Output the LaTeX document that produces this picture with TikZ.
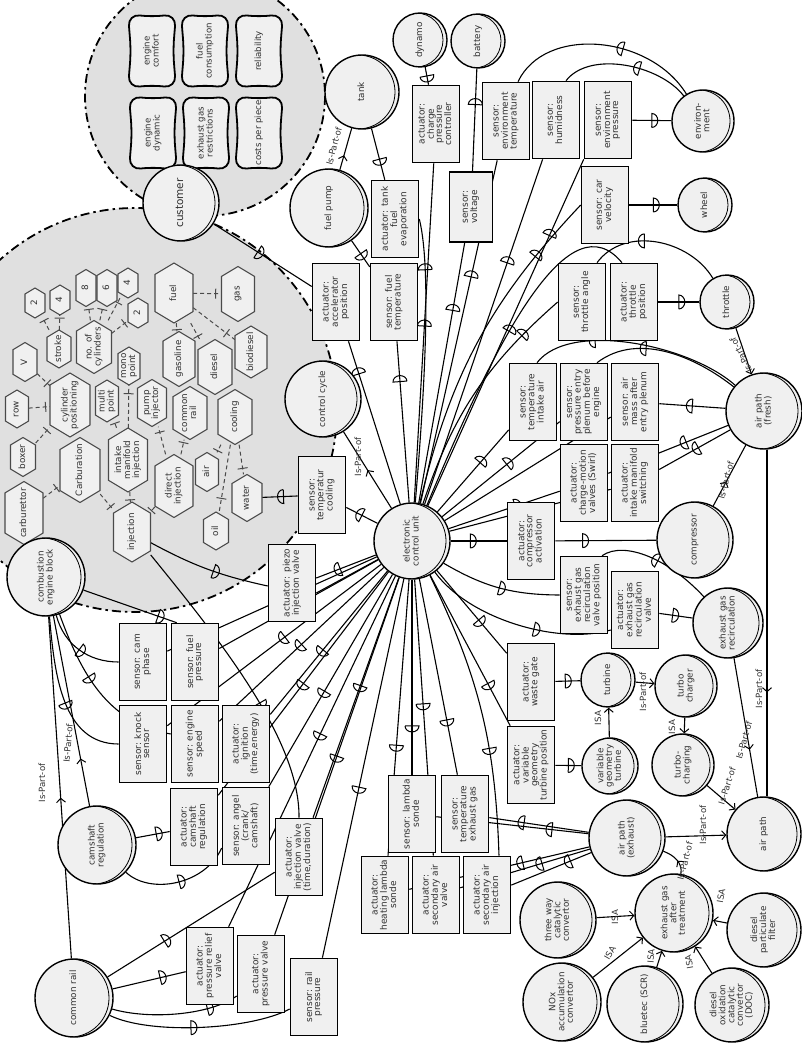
\documentclass[tikz,border=0pt]{standalone}
\usepackage{fontspec}
\setmainfont{DejaVu Sans}
\usetikzlibrary{arrows.meta,decorations.markings}
\pgfdeclarelayer{bg}
\pgfdeclarelayer{edges}
\pgfsetlayers{bg,edges,main}
\definecolor{nfill}{HTML}{F0F0F0}
\definecolor{gfill}{HTML}{E0E0E0}
\definecolor{hline}{HTML}{4A4A4A}
\definecolor{tcol}{HTML}{303030}
\newcommand\Rt[1]{\rotatebox{90}{\begin{tabular}{@{}c@{}}#1\end{tabular}}}
\newcommand\Fs{\fontsize{9}{9.4}\selectfont\renewcommand\arraystretch{0.85}}
\newcommand\Fq{\fontsize{8.6}{9}\selectfont\renewcommand\arraystretch{0.85}}
\newcommand\Fc{\fontsize{8.8}{9.1}\selectfont\renewcommand\arraystretch{0.85}}
\newcommand\Hx[6]{%
  \draw[hexd] ({#2-#4/2},{#3-#5/2+0.3*#4}) -- (#2,{#3-#5/2}) -- ({#2+#4/2},{#3-#5/2+0.3*#4}) -- ({#2+#4/2},{#3+#5/2-0.3*#4}) -- (#2,{#3+#5/2}) -- ({#2-#4/2},{#3+#5/2-0.3*#4}) -- cycle;
  \node[hexn, minimum width=#4, minimum height=#5] (#1) at (#2,#3) {\Rt{#6}};}
\newcommand\Rq[4]{%
  \draw[reqd] (#2,{#3-34}) -- ({#2+24},{#3-37}) -- ({#2+21},#3) -- ({#2+24},{#3+37}) -- (#2,{#3+34}) -- ({#2-24},{#3+37}) -- ({#2-21},#3) -- ({#2-24},{#3-37}) -- cycle;
  \node[font=\Fq, text=tcol, inner sep=0pt] (#1) at (#2,#3) {\Rt{#4}};}
\tikzset{
 box/.style={draw, line width=1.6pt, fill=nfill, minimum width=47, minimum height=77, inner sep=0pt, font=\Fs, text=tcol},
 ent/.style={draw, circle, line width=1.4pt, fill=nfill, inner sep=0pt, minimum size={2*#1}, font=\Fc, text=tcol,
   path picture={\draw[line width=0.8pt] ([xshift=-4pt]path picture bounding box.center) circle[radius=#1];}},
 hexd/.style={draw=hline, line width=1.1pt, fill=nfill},
 hexn/.style={inner sep=0pt, font=\Fc, text=tcol},
 reqd/.style={draw, line width=1.8pt, fill=nfill, rounded corners=12pt},
 grp/.style={fill=gfill, draw=black, line width=1.8pt, dash pattern=on 9pt off 4pt on 2.5pt off 4pt},
 con/.style={line width=1.1pt},
 lbl/.style={font=\fontsize{8.6}{8.6}\selectfont, text=tcol, inner sep=0.5pt},
 so/.style={postaction={decorate,decoration={markings,mark=at position #1 with {\draw[solid,line width=1pt] (0pt,-7pt) -- (0pt,7pt) arc[start angle=90,end angle=-90,x radius=6pt,y radius=7pt];}}}},
 so/.default=0.5,
 arr/.style={postaction={decorate,decoration={markings,mark=at position #1 with {\arrow[line width=1pt]{Straight Barb[length=4pt,width=9pt]}}}}},
 arr/.default=0.5,
 isa/.style={-{Straight Barb[length=4pt,width=9pt,line width=1pt]}},
 hl/.style={draw=hline, line width=1pt, dash pattern=on 4pt off 3pt, postaction={decorate,decoration={markings,mark=at position #1 with {\draw[solid,line width=1pt,draw=hline] (0pt,-5pt) -- (0pt,5pt);}}}},
 hl/.default=0.8
}
\begin{document}
\begin{tikzpicture}[x=1pt,y=-1pt]
\useasboundingbox (0,0) rectangle (801,1043);
\begin{pgfonlayer}{bg}
\fill[white] (0,0) rectangle (801,1043);
\path[grp] (205,96) circle[radius=120];
\path[grp] (135,410) circle[radius=202];
\end{pgfonlayer}

% customer requirements
\Rq{rq1}{152}{51}{engine\\comfort}
\Rq{rq2}{205}{51}{fuel\\consumption}
\Rq{rq3}{259}{51}{reliability}
\Rq{rq4}{153}{133}{engine\\dynamic}
\Rq{rq5}{206}{133}{exhaust gas\\restrictions}
\Rq{rq6}{259}{133}{costs per piece}

% hexagons
\Hx{h2a}{35}{303}{20}{30}{2}
\Hx{h4a}{60}{300}{20}{30}{4}
\Hx{hstroke}{59}{349}{24}{38}{stroke}
\Hx{h8}{86}{288}{20}{37}{8}
\Hx{h6}{107}{288}{20}{37}{6}
\Hx{h4b}{128}{283}{20}{30}{4}
\Hx{h2b}{138}{313}{20}{30}{2}
\Hx{hcyl}{94}{347}{35}{53}{no. of\\cylinders}
\Hx{hV}{25}{362}{24}{39}{V}
\Hx{hrow}{17}{409}{23}{38}{row}
\Hx{hcpos}{70}{405}{40}{64}{cylinder\\positioning}
\Hx{hboxer}{23}{457}{25}{39}{boxer}
\Hx{hcarb}{80}{470}{40}{65}{Carburation}
\Hx{hmono}{129}{366}{22}{38}{mono\\point}
\Hx{hmulti}{107}{401}{23}{42}{multi\\point}
\Hx{himi}{128}{460}{39}{64}{intake\\manifold\\injection}
\Hx{hpump}{152}{403}{29}{47}{pump\\injector}
\Hx{hcr}{190}{413}{34}{53}{common\\rail}
\Hx{hdi}{174}{486}{38}{63}{direct\\injection}
\Hx{hfuel}{174}{293}{38}{60}{fuel}
\Hx{hgas}{238}{294}{33}{55}{gas}
\Hx{hgasol}{179}{359}{32}{55}{gasoline}
\Hx{hdiesel}{215}{367}{34}{55}{diesel}
\Hx{hbio}{251}{352}{32}{52}{biodiesel}
\Hx{hcool}{235}{417}{34}{55}{cooling}
\Hx{hair}{207}{472}{23}{39}{air}
\Hx{hwater}{247}{498}{30}{47}{water}
\Hx{hoil}{216}{531}{25}{38}{oil}
\Hx{hcarbt}{24}{513}{38}{63}{carburettor}
\Hx{hinj}{132}{532}{37}{60}{injection}

% entities
\node[ent=38, font=\fontsize{10.5}{11}\selectfont] (cust) at (181,203) {\Rt{customer}};
\node[ent=37] (tank) at (362,92) {\Rt{tank}};
\node[ent=27] (dyn) at (420,40) {\Rt{dynamo}};
\node[ent=27] (bat) at (478,41) {\Rt{battery}};
\node[ent=39] (fpump) at (329,208) {\Rt{fuel pump}};
\node[ent=31] (env) at (703,121) {\Rt{environ-\\ment}};
\node[ent=27] (wheel) at (705,205) {\Rt{wheel}};
\node[ent=27] (thr) at (727,302) {\Rt{throttle}};
\node[ent=38] (ccyc) at (323,399) {\Rt{control cycle}};
\node[ent=38] (ecu) at (412,541) {\Rt{electronic\\control unit}};
\node[ent=38] (apf) at (764,411) {\Rt{air path\\(fresh)}};
\node[ent=38] (comp) at (695,540) {\Rt{compressor}};
\node[ent=35] (egr) at (728,623) {\Rt{exhaust gas\\recirculation}};
\node[ent=27] (turb) at (608,680) {\Rt{turbine}};
\node[ent=31] (tch) at (686,686) {\Rt{turbo\\charger}};
\node[ent=28] (vgt) at (610,766) {\Rt{variable\\geometry\\turbine}};
\node[ent=31] (tcg) at (683,765) {\Rt{turbo-\\charging}};
\node[ent=38] (ape) at (627,838) {\Rt{air path\\(exhaust)}};
\node[ent=37] (ap) at (764,834) {\Rt{air path}};
\node[ent=38] (twc) at (558,920) {\Rt{three way\\catalytic\\convertor}};
\node[ent=39] (egat) at (674,913) {\Rt{exhaust gas\\after\\treatment}};
\node[ent=37] (dpf) at (764,930) {\Rt{diesel\\particulate\\filter}};
\node[ent=39] (nox) at (562,1002) {\Rt{NOx\\accumulation\\convertor}};
\node[ent=38] (blue) at (645,1004) {\Rt{bluetec (SCR)}};
\node[ent=37] (doc) at (732,1005) {\Rt{diesel\\oxidation\\catalytic\\convertor\\(DOC)}};
\node[ent=39] (ceb) at (46,577) {\Rt{combustion\\engine block}};
\node[ent=39] (camr) at (97,845) {\Rt{camshaft\\regulation}};
\node[ent=39] (crail) at (74,998) {\Rt{common rail}};

% boxes
\node[box] (accel) at (336,302) {\Rt{actuator:\\accelerator\\position}};
\node[box] (ftemp) at (394,302) {\Rt{sensor: fuel\\temperature}};
\node[box] (evap) at (395,219) {\Rt{actuator: tank\\fuel\\evaporation}};
\node[box] (cpc) at (436,124) {\Rt{actuator:\\charge\\pressure\\controller}};
\node[box] (envt) at (506,121) {\Rt{sensor:\\environment\\temperature}};
\node[box, minimum width=43, minimum height=70] (volt) at (471,207) {\Rt{sensor:\\voltage}};
\node[box] (humid) at (556,120) {\Rt{sensor:\\humidness}};
\node[box] (envp) at (608,120) {\Rt{sensor:\\environment\\pressure}};
\node[box] (carv) at (605,205) {\Rt{sensor: car\\velocity}};
\node[box] (thra) at (582,302) {\Rt{sensor:\\throttle angle}};
\node[box] (thrp) at (634,302) {\Rt{actuator:\\throttle\\position}};
\node[box] (tia) at (533,402) {\Rt{sensor:\\temperature\\intake air}};
\node[box] (ppl) at (584,402) {\Rt{sensor:\\pressure entry\\plenum before\\engine}};
\node[box] (amass) at (635,402) {\Rt{sensor: air\\mass after\\entry plenum}};
\node[box] (cmv) at (584,483) {\Rt{actuator:\\charge-motion\\valves (Swirl)}};
\node[box] (ims) at (635,483) {\Rt{actuator:\\intake manifold\\switching}};
\node[box] (compa) at (531,541) {\Rt{actuator:\\compressor\\activation}};
\node[box] (egrs) at (584,595) {\Rt{sensor:\\exhaust gas\\recirculation\\valve position}};
\node[box] (egra) at (635,610) {\Rt{actuator:\\exhaust gas\\recirculation\\valve}};
\node[box] (wg) at (531,682) {\Rt{actuator:\\waste gate}};
\node[box] (vgtp) at (531,765) {\Rt{actuator:\\variable\\geometry\\turbine position}};
\node[box] (lam) at (412,814) {\Rt{sensor: lambda\\sonde}};
\node[box] (texh) at (465,814) {\Rt{sensor:\\temperature\\exhaust gas}};
\node[box] (hls) at (385,895) {\Rt{actuator:\\heating lambda\\sonde}};
\node[box] (sav) at (436,895) {\Rt{actuator:\\secondary air\\valve}};
\node[box] (sai) at (487,895) {\Rt{actuator:\\secondary air\\injection}};
\node[box] (injv) at (299,857) {\Rt{actuator:\\injection valve\\(time,duration)}};
\node[box] (railp) at (314,997) {\Rt{sensor: rail\\pressure}};
\node[box] (pv) at (261,974) {\Rt{actuator:\\pressure valve}};
\node[box] (prv) at (210,966) {\Rt{actuator:\\pressure relief\\valve}};
\node[box] (acam) at (194,827) {\Rt{actuator:\\camshaft\\regulation}};
\node[box] (angel) at (246,826) {\Rt{sensor: angel\\(crank/\\camshaft)}};
\node[box] (knock) at (143,744) {\Rt{sensor: knock\\sensor}};
\node[box] (espd) at (195,744) {\Rt{sensor: engine\\speed}};
\node[box] (ign) at (246,744) {\Rt{actuator:\\ignition\\(time,energy)}};
\node[box] (camph) at (143,662) {\Rt{sensor: cam\\phase}};
\node[box] (fpres) at (195,662) {\Rt{sensor: fuel\\pressure}};
\node[box] (piezo) at (292,583) {\Rt{actuator: piezo\\injection valve}};
\node[box] (tcool) at (322,495) {\Rt{sensor:\\temperatur\\cooling}};

% labels
\node[lbl,rotate=75] (l1) at (334,146) {Is-Part-of};
\node[lbl,rotate=90] (l2) at (358,457) {Is-Part-of};
\node[lbl,rotate=117] (l3) at (741,355) {Is-Part-of};
\node[lbl,rotate=75] (l4) at (726,480) {Is-Part-of};
\node[lbl,rotate=90] (l5) at (759,689) {Is-Part-of};
\node[lbl,rotate=74] (l6) at (744,740) {Is-Part-of};
\node[lbl,rotate=90] (l7) at (643,692) {Is-Part-of};
\node[lbl,rotate=90] (l8) at (598,718) {ISA};
\node[lbl,rotate=90] (l9) at (672,727) {ISA};
\node[lbl,rotate=72] (l10) at (727,786) {Is-Part-of};
\node[lbl,rotate=90] (l11) at (703,825) {Is-Part-of};
\node[lbl,rotate=76] (l12) at (685,861) {Is-Part-of};
\node[lbl,rotate=90] (l13) at (615,917) {ISA};
\node[lbl,rotate=60] (l14) at (610,953) {ISA};
\node[lbl,rotate=85] (l15) at (651,956) {ISA};
\node[lbl,rotate=100] (l16) at (689,962) {ISA};
\node[lbl,rotate=80] (l17) at (721,896) {ISA};
\node[lbl,rotate=90] (l18) at (42,783) {Is-Part-of};
\node[lbl,rotate=85] (l19) at (68,743) {Is-Part-of};

\begin{pgfonlayer}{edges}
% hexagon links
\draw[hl] (hstroke) -- (h2a);
\draw[hl] (hstroke) -- (h4a);
\draw[hl] (hcyl) -- (h8);
\draw[hl] (hcyl) -- (h6);
\draw[hl] (hcyl) -- (h4b);
\draw[hl] (hcyl) -- (h2b);
\draw[hl] (hV) -- (hcpos);
\draw[hl] (hrow) -- (hcpos);
\draw[hl] (hboxer) -- (hcpos);
\draw[hl] (hfuel) -- (hgas);
\draw[hl] (hfuel) -- (hgasol);
\draw[hl] (hfuel) -- (hdiesel);
\draw[hl] (hfuel) -- (hbio);
\draw[hl] (himi) -- (hmono);
\draw[hl] (himi) -- (hmulti);
\draw[hl] (hdi) -- (hpump);
\draw[hl] (hdi) -- (hcr);
\draw[hl] (hcool) -- (hair);
\draw[hl] (hcool) -- (hwater);
\draw[hl] (hcool) -- (hoil);
\draw[hl] (hcarbt) -- (hcarb);
\draw[hl] (hcarb) -- (hinj);
\draw[hl] (himi) -- (hinj);
\draw[hl] (hdi) -- (hinj);

% ECU top fan
\draw[con,so=0.8] (ecu) -- (accel);
\draw[con,so=0.75] (ecu) -- (ftemp);
\draw[con,so=0.82] (ecu) .. controls (424,400) and (432,270) .. (evap.east);
\draw[con,so=0.52] (ecu) -- (cpc);
\draw[con,so=0.74] (ecu) -- (volt);
\draw[con,so=0.66] (ecu) -- (envt);
\draw[con,so=0.7] (ecu) -- (humid);
\draw[con,so=0.78] (ecu) -- (envp.south west);
\draw[con,so=0.8] (ecu) to[bend left=15] (carv.west);
\draw[con,so=0.8] (ecu) to[bend left=15] (thra.west);
\draw[con,so=0.55] (ecu) .. controls (500,330) and (570,200) .. ([xshift=-12pt]thrp.north);
% ECU right side
\draw[con,so=0.6] (ecu) -- (tia);
\draw[con,so=0.55] (ecu) -- (ppl);
\draw[con] (ecu) -- (amass);
\draw[con,so=0.6] (ecu) -- (cmv);
\draw[con,so=0.72] (ecu) -- (ims);
\draw[con,so=0.35] (ecu) -- (compa);
\draw[con,so=0.5] (ecu) to[bend right=15] (egrs.west);
\draw[con,so=0.6] (ecu) .. controls (470,620) and (560,645) .. ([yshift=-20pt]egra.west);
\draw[con,so=0.6] (ecu) -- (wg);
\draw[con,so=0.72] (ecu) -- (vgtp);
% ECU bottom
\draw[con,so=0.63] (ecu) to[bend left=12] ([xshift=12pt]sai.north);
\draw[con,so=0.72] (ecu) -- (texh);
\draw[con,so=0.45] (ecu) -- (sav);
\draw[con,so=0.75] (ecu) -- (lam);
\draw[con,so=0.6] (ecu) -- (hls);
\draw[con,so=0.55] (ecu) -- (railp);
\draw[con,so=0.5] (ecu) -- (pv);
\draw[con,so=0.45] (ecu) -- (prv);
\draw[con,so=0.45] (ecu) -- (injv);
\draw[con,so=0.55] (ecu) -- (angel);
\draw[con,so=0.5] (ecu) -- (acam);
\draw[con,so=0.55] (ecu) -- (ign);
\draw[con,so=0.5] (ecu) -- (espd);
\draw[con,so=0.45] (ecu) -- (knock);
\draw[con,so=0.5] (ecu) -- (fpres);
\draw[con,so=0.45] (ecu) -- (camph);
\draw[con,so=0.6] (ecu) -- ([yshift=5pt]piezo.east);
\draw[con] (ecu) -- ([yshift=-10pt]piezo.east);
\draw[con,so=0.5] (ecu) -- (tcool);
\draw[con,arr=0.5] (ecu) -- (ccyc);

% top entities
\draw[con,so=0.5] (dyn) -- (cpc);
\draw[con,so=0.65] (volt) -- (bat);
\draw[con,so=0.6] (tank) -- (evap);
\draw[con,so=0.5] (fpump) -- (ftemp);
\draw[con,so=0.45] (cust) -- (accel);
\draw[con,arr=0.35] (fpump) -- (tank);
\draw[con,so=0.4] (env) .. controls (650,35) and (545,25) .. ([xshift=12pt]envt.north);
\draw[con,so=0.4] (env) .. controls (660,65) and (590,50) .. ([xshift=10pt]humid.north);
\draw[con,so=0.5] (envp) -- (env);
\draw[con,so=0.5] (carv) -- (wheel);
\draw[con,so=0.5] (thrp) -- (thr);
\draw[con,so=0.6] (thr) .. controls (690,240) and (625,225) .. ([xshift=15pt]thra.north);

% air path fresh
\draw[con,so=0.7] (apf) .. controls (690,345) and (570,320) .. ([xshift=4pt]tia.north);
\draw[con,so=0.65] (apf) .. controls (700,360) and (640,330) .. ([xshift=13pt]ppl.north);
\draw[con,so=0.5] (apf) -- (amass);
\draw[con,so=0.35] (apf) -- (cmv);
\draw[con,so=0.45] (apf) -- (ims);
\draw[con,isa] (thr) -- (apf);
\draw[con,arr=0.4] (comp) -- (apf);
\draw[con,arr=0.7] ([xshift=3pt]apf.south) -- ([xshift=3pt]ap.north);
\draw[con,arr=0.66] (egr) -- (ap);
\draw[con,so=0.27] (compa) -- (comp);
\draw[con,so=0.4] (egra) -- (egr);
\draw[con,so=0.5] (egr) .. controls (670,560) and (625,540) .. ([xshift=18pt]egrs.north);
\draw[con,so=0.4] (wg) -- (turb);
\draw[con,so=0.5] (vgtp) -- (vgt);
\draw[con,isa] (vgt) -- (turb);
\draw[con,isa] (turb) -- (tch);
\draw[con,isa] (tch) -- (tcg);
\draw[con,isa] (tcg) -- (ap);
\draw[con,isa] (ape) -- (ap);
\draw[con,arr=0.45] (egat) to[out=80,in=-20] (ape);
\draw[con,isa] (twc) -- (egat);
\draw[con,isa] (nox) -- (egat);
\draw[con,isa] (blue) -- (egat);
\draw[con,isa] (doc) -- (egat);
\draw[con,isa] (dpf) -- (egat);
% exhaust sensors
\draw[con,so=0.24] (ape) -- (lam);
\draw[con,so=0.65] (ape) -- (texh);
\draw[con,so=0.37] (ape) -- (hls);
\draw[con,so=0.37] (ape) -- (sav);
\draw[con,so=0.26] (ape) -- (sai);

% engine side
\draw[con,so=0.5] (ceb) to[out=-75,in=180] (camph.west);
\draw[con,so=0.8] (ceb) -- ([xshift=6pt]fpres.north west);
\draw[con,so=0.55] (ceb) to[out=-85,in=180] (knock.west);
\draw[con,so=0.4] (ceb) to[out=-70,in=170] ([yshift=10pt]espd.west);
\draw[con,so=0.55] (hinj) to[bend right=8] ([yshift=-3pt]piezo.west);
\draw[con,so=0.6] (hinj) .. controls (220,640) and (300,740) .. (injv.north);
\draw[con,so=0.4] (tcool) -- (hwater);
\draw[con,arr=0.47] (crail) -- (ceb);
\draw[con,arr=0.25] (camr) -- (ceb);
\draw[con,so=0.6] (camr) -- (acam);
\draw[con,so=0.5] (camr) .. controls (150,895) and (205,885) .. ([yshift=-22pt]angel.west);
\draw[con,so=0.34] (crail) -- (injv);
\draw[con,so=0.65] (crail) -- (prv);
\draw[con,so=0.75] (crail) .. controls (150,1020) and (210,1015) .. ([yshift=-22pt]pv.west);
\draw[con,so=0.45] (crail) .. controls (150,1035) and (250,1030) .. ([yshift=-12pt]railp.west);
\end{pgfonlayer}
\end{tikzpicture}
\end{document}
